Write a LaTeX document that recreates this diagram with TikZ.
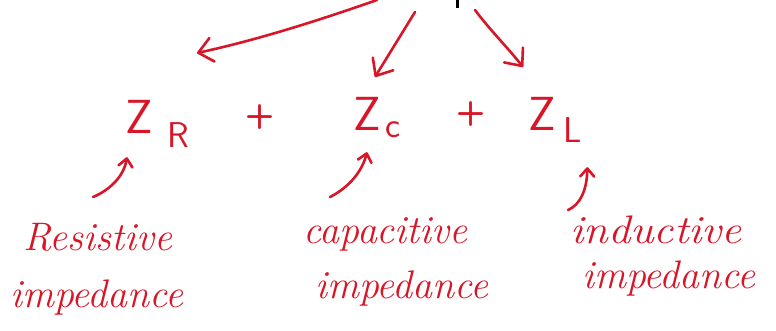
\documentclass[tikz,border=0pt]{standalone}
\usetikzlibrary{arrows.meta}
\definecolor{inkred}{RGB}{216,22,40}
\begin{document}
\begin{tikzpicture}[x=1bp,y=-1bp,ink/.style={draw=inkred,line width=2.6bp,line cap=round,line join=round},big-tip/.style={-{Straight Barb[length=14bp,width=24bp,round]}},small-tip/.style={-{Straight Barb[length=8bp,width=14bp,round]}},term/.style={anchor=base west,inner sep=0pt,text=inkred,font=\sffamily\fontsize{48}{48}\selectfont},term-sub/.style={anchor=base west,inner sep=0pt,text=inkred,font=\sffamily\fontsize{36}{36}\selectfont},plus-sign/.style={inner sep=0pt,text=inkred,font=\sffamily\bfseries\fontsize{34}{34}\selectfont},note/.style={anchor=base west,inner sep=0pt,text=inkred,font=\itshape\fontsize{40}{40}\selectfont}]
\useasboundingbox[fill=white] (0,0) rectangle (776,330);
\path[fill=black,draw=none] (455.5,0) rectangle (459,8);
\coordinate (src-r) at (377,0);
\coordinate (src-c) at (415,12);
\coordinate (src-l) at (475,10);
\coordinate (tip-r) at (197,53);
\coordinate (tip-c) at (375,77);
\coordinate (tip-l) at (523,67);
\draw[ink,big-tip] (src-r) .. controls (317,21) and (257,40) .. (tip-r);
\draw[ink,big-tip] (src-c) -- (tip-c);
\draw[ink,big-tip] (src-l) .. controls (490,30) and (508,48) .. (tip-l);
\node[term] (z-r) at (125,133) {Z};
\node[term-sub] (z-r-sub) at (167,147) {R};
\node[plus-sign] (plus-0) at (260,117) {+};
\node[term] (z-c) at (353,130) {Z};
\node[term-sub] (z-c-sub) at (385,137) {c};
\node[plus-sign] (plus-1) at (471,114) {+};
\node[term] (z-l) at (528,130) {Z};
\node[term-sub] (z-l-sub) at (563,142) {L};
\node[note] (note-r-0) at (23,250) {Resistive};
\node[note] (note-r-1) at (10,307) {impedance};
\node[note] (note-c-0) at (303,243) {capacitive};
\node[note] (note-c-1) at (315,298) {impedance};
\node[note,xscale=1.12,transform shape] (note-l-0) at (570,243) {inductive};
\node[note] (note-l-1) at (582,288) {impedance};
\coordinate (foot-r) at (93,197);
\coordinate (foot-c) at (330,197);
\coordinate (foot-l) at (568,210);
\draw[ink,small-tip] (foot-r) .. controls (110,190) and (124,176) .. ([xshift=-12bp,yshift=-24bp]z-r.south);
\draw[ink,small-tip] (foot-c) .. controls (348,188) and (362,172) .. ([yshift=-22bp]z-c.south);
\draw[ink,small-tip] (foot-l) .. controls (580,205) and (587,190) .. ([xshift=15bp,yshift=-25bp]z-l-sub.south);
\end{tikzpicture}
\end{document}
